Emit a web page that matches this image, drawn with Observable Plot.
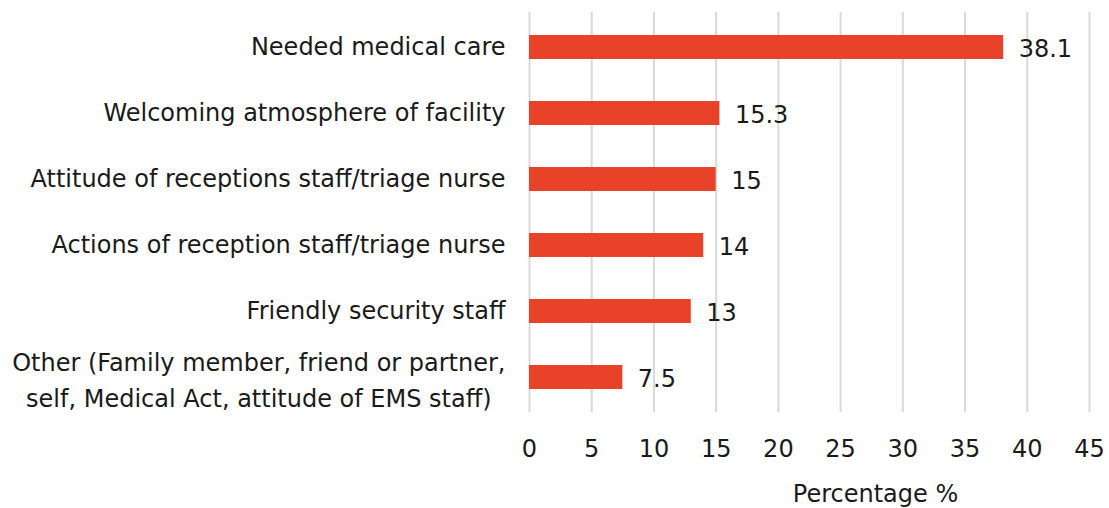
<!DOCTYPE html>
<html>
<head>
<meta charset="utf-8">
<script src="https://cdn.jsdelivr.net/npm/d3@7"></script>
<script src="https://cdn.jsdelivr.net/npm/@observablehq/plot@0.6"></script>
<style>
  html, body { margin: 0; padding: 0; background: #fff; }
  #chart svg { display: block; }
</style>
</head>
<body>
<div id="chart"></div>
<script>
const categories = [
  "Needed medical care",
  "Welcoming atmosphere of facility",
  "Attitude of receptions staff/triage nurse",
  "Actions of reception staff/triage nurse",
  "Friendly security staff",
  "Other (Family member, friend or partner,\nself, Medical Act, attitude of EMS staff)"
];
const values = [38.1, 15.3, 15, 14, 13, 7.5];
const valueLabels = ["38.1", "15.3", "15", "14", "13", "7.5"];
const xTicks = [0, 5, 10, 15, 20, 25, 30, 35, 40, 45];
const axisTitle = "Percentage %";

const data = categories.map((c, i) => ({category: c, value: values[i], label: valueLabels[i]}));

const FAMILY = "DejaVu Sans";
const FONT = `"${FAMILY}", sans-serif`;
const barColor = "#e84229";
const textColor = "#1a1a1a";

// size the font so the reference label widths are matched
const ctx = document.createElement("canvas").getContext("2d");
ctx.font = `22px "${FAMILY}"`;
const FS = Math.round(22 * 255 / ctx.measureText(categories[0]).width * 10) / 10;
ctx.font = `${FS}px "${FAMILY}"`;

const multi = categories.filter(c => c.includes("\n"));
const single = categories.filter(c => !c.includes("\n"));
const multiWidth = multi.length ? Math.max(...multi[0].split("\n").map(s => ctx.measureText(s).width)) : 0;

const chart = Plot.plot({
  width: 1109,
  height: 508,
  marginLeft: 529,
  marginRight: 20,
  marginTop: 12,
  marginBottom: 96,
  style: {fontFamily: FONT, color: textColor, background: "#fff"},
  x: {domain: [0, 45], ticks: xTicks},
  y: {domain: categories, paddingInner: 0.64, paddingOuter: 0.32, axis: null},
  marks: [
    Plot.gridX(xTicks, {stroke: "#d9d9d9", strokeOpacity: 1, strokeWidth: 2}),
    Plot.barX(data, {x: "value", y: "category", fill: barColor}),
    Plot.text(data, {x: "value", y: "category", text: "label", textAnchor: "start", dx: 15, dy: 2, fontSize: FS, fill: textColor}),
    Plot.axisX({ticks: xTicks, tickSize: 0, tickPadding: 27, label: null, fontSize: FS, fill: textColor}),
    Plot.text(single, {y: d => d, frameAnchor: "left", textAnchor: "end", dx: -24, fontSize: FS, fill: textColor}),
    Plot.text(multi, {y: d => d, frameAnchor: "left", textAnchor: "middle", dx: -24 - multiWidth / 2, lineHeight: 1.5, fontSize: FS, fill: textColor}),
    Plot.text([axisTitle], {frameAnchor: "bottom", dx: 66, dy: 89, fontSize: FS, fill: textColor})
  ]
});
document.getElementById("chart").appendChild(chart);
</script>
</body>
</html>
